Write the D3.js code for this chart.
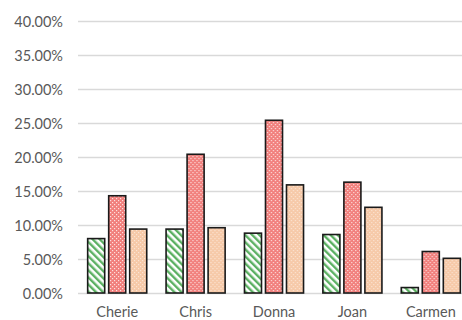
<!DOCTYPE html>
<html>
<head>
<meta charset="utf-8">
<script src="https://cdn.jsdelivr.net/npm/d3@7/dist/d3.min.js"></script>
<style>
  html, body { margin: 0; padding: 0; background: #fff; }
  svg { display: block; }
  text { font-family: Lato, "Open Sans", sans-serif; fill: #595959; }
</style>
</head>
<body>
<svg id="chart" width="462" height="320"></svg>
<script>
// Share of each person, three series per person
const categories = ["Cherie", "Chris", "Donna", "Joan", "Carmen"];
const seriesNames = ["A", "B", "C"];
const seriesA = [0.080, 0.094, 0.088, 0.086, 0.008];
const seriesB = [0.143, 0.204, 0.254, 0.163, 0.061];
const seriesC = [0.094, 0.096, 0.159, 0.126, 0.051];
const yTicks = [0, 0.05, 0.10, 0.15, 0.20, 0.25, 0.30, 0.35, 0.40];

const seriesValues = [seriesA, seriesB, seriesC];

const svg = d3.select("#chart");
const margin = { left: 78, right: -8, top: 21, bottom: 27 };
const W = 462, H = 320;

const x0 = d3.scaleBand()
  .domain(categories)
  .range([margin.left, W - margin.right])
  .paddingInner(0).paddingOuter(0);

const x1 = d3.scaleBand()
  .domain(seriesNames)
  .range([0, x0.bandwidth()])
  .paddingInner(0.19)
  .paddingOuter(0.46);

const y = d3.scaleLinear()
  .domain([0, 0.40])
  .range([H - margin.bottom, margin.top]);

// Fill patterns
const defs = svg.append("defs");

const pA = defs.append("pattern")
  .attr("id", "patA").attr("patternUnits", "userSpaceOnUse")
  .attr("width", 5).attr("height", 5)
  .attr("patternTransform", "rotate(-45)");
pA.append("rect").attr("width", 5).attr("height", 5).attr("fill", "#ffffff");
pA.append("rect").attr("x", 0).attr("y", 0).attr("width", 2.4).attr("height", 5).attr("fill", "#5bb062");

const pB = defs.append("pattern")
  .attr("id", "patB").attr("patternUnits", "userSpaceOnUse")
  .attr("width", 4).attr("height", 4);
pB.append("rect").attr("width", 4).attr("height", 4).attr("fill", "#f17f7c");
pB.append("rect").attr("x", 0).attr("y", 0).attr("width", 1.2).attr("height", 1.2).attr("fill", "#fde0de");
pB.append("rect").attr("x", 2).attr("y", 2).attr("width", 1.2).attr("height", 1.2).attr("fill", "#fde0de");

const pC = defs.append("pattern")
  .attr("id", "patC").attr("patternUnits", "userSpaceOnUse")
  .attr("width", 4).attr("height", 4);
pC.append("rect").attr("width", 4).attr("height", 4).attr("fill", "#f6c9a8");
pC.append("rect").attr("x", 0).attr("y", 0).attr("width", 1.2).attr("height", 1.2).attr("fill", "#fbe4d3");
pC.append("rect").attr("x", 2).attr("y", 2).attr("width", 1.2).attr("height", 1.2).attr("fill", "#fbe4d3");

const fills = ["url(#patA)", "url(#patB)", "url(#patC)"];

// Gridlines
svg.append("g")
  .selectAll("line")
  .data(yTicks)
  .join("line")
  .attr("x1", margin.left)
  .attr("x2", W)
  .attr("y1", d => Math.round(y(d)) + 0.5)
  .attr("y2", d => Math.round(y(d)) + 0.5)
  .attr("stroke", "#d9d9d9")
  .attr("stroke-width", 1.5);

// Y axis labels
const yAxis = d3.axisLeft(y)
  .tickValues(yTicks)
  .tickSize(0)
  .tickPadding(0)
  .tickFormat(d3.format(".2%"));
const gy = svg.append("g")
  .attr("transform", `translate(${margin.left - 15},1)`)
  .call(yAxis);
gy.select(".domain").remove();
gy.selectAll("text")
  .style("font-size", "14.5px")
  .attr("fill", "#595959");

// Bars
const groups = svg.append("g")
  .selectAll("g")
  .data(categories)
  .join("g")
  .attr("transform", d => `translate(${x0(d)},0)`);

groups.selectAll("rect")
  .data((d, i) => seriesNames.map((s, k) => ({ s, k, v: seriesValues[k][i] })))
  .join("rect")
  .attr("x", d => x1(d.s))
  .attr("y", d => y(d.v))
  .attr("width", x1.bandwidth())
  .attr("height", d => y(0) - y(d.v))
  .attr("fill", d => fills[d.k])
  .attr("stroke", "#1a1a1a")
  .attr("stroke-width", 1.6);

// X axis labels
const xAxis = d3.axisBottom(x0).tickSize(0).tickPadding(14);
const gx = svg.append("g")
  .attr("transform", `translate(0,${y(0)})`)
  .call(xAxis);
gx.select(".domain").remove();
gx.selectAll("text")
  .style("font-size", "14.5px")
  .attr("fill", "#595959");
</script>
</body>
</html>
